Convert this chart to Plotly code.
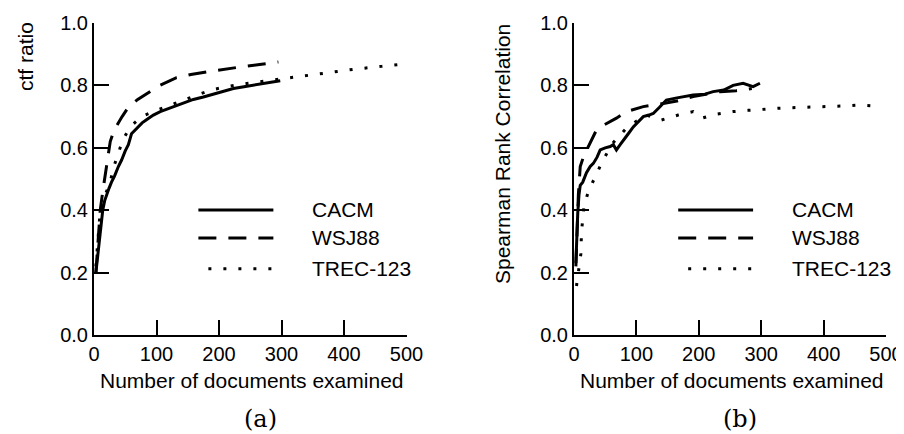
import plotly.graph_objects as go
from plotly.subplots import make_subplots

# ── (a) ctf ratio ────────────────────────────────────────────
cacm_a_x = [3, 6, 8, 11, 14, 17, 20, 24, 28, 33, 39, 44, 50, 55, 60, 65, 70, 77, 84, 95, 106, 118, 132, 145, 159, 175, 190, 206, 223, 240, 260, 280, 298]
cacm_a_y = [0.20, 0.26, 0.30, 0.36, 0.40, 0.43, 0.45, 0.47, 0.49, 0.51, 0.54, 0.56, 0.59, 0.61, 0.645, 0.655, 0.665, 0.68, 0.69, 0.705, 0.716, 0.725, 0.737, 0.745, 0.755, 0.763, 0.772, 0.781, 0.79, 0.796, 0.803, 0.809, 0.815]

wsj_a_x = [3, 6, 10, 14, 17, 22, 26, 31, 36, 45, 55, 70, 86, 105, 132, 155, 180, 205, 234, 265, 295]
wsj_a_y = [0.20, 0.30, 0.40, 0.46, 0.50, 0.57, 0.62, 0.65, 0.67, 0.70, 0.73, 0.755, 0.775, 0.80, 0.825, 0.835, 0.843, 0.851, 0.859, 0.867, 0.875]

trec_a_x = [3, 6, 10, 18, 26, 31, 38, 46, 58, 76, 100, 122, 148, 170, 191, 215, 244, 280, 319, 367, 417, 460, 493]
trec_a_y = [0.22, 0.30, 0.40, 0.45, 0.49, 0.535, 0.58, 0.625, 0.667, 0.70, 0.72, 0.737, 0.755, 0.773, 0.787, 0.797, 0.806, 0.816, 0.826, 0.840, 0.852, 0.861, 0.868]

# ── (b) Spearman rank correlation ────────────────────────────
cacm_b_x = [3, 4, 6, 8, 10, 14, 20, 26, 31, 37, 42, 50, 58, 63, 68, 74, 79, 87, 95, 103, 111, 120, 127, 137, 148, 165, 191, 210, 223, 240, 255, 271, 287, 298]
cacm_b_y = [0.23, 0.30, 0.39, 0.45, 0.48, 0.49, 0.52, 0.54, 0.55, 0.57, 0.593, 0.60, 0.604, 0.61, 0.593, 0.61, 0.625, 0.645, 0.667, 0.685, 0.70, 0.705, 0.71, 0.73, 0.753, 0.76, 0.769, 0.772, 0.78, 0.785, 0.80, 0.807, 0.796, 0.807]

wsj_b_x = [3, 5, 7, 10, 15, 22, 30, 36, 45, 55, 68, 84, 100, 111, 138, 165, 191, 234, 260, 285]
wsj_b_y = [0.22, 0.35, 0.45, 0.54, 0.57, 0.60, 0.63, 0.657, 0.67, 0.68, 0.695, 0.716, 0.725, 0.732, 0.74, 0.75, 0.764, 0.78, 0.783, 0.79]

trec_b_x = [4, 8, 11, 12, 16, 23, 34, 44, 60, 84, 100, 116, 140, 167, 191, 205, 229, 255, 279, 303, 330, 357, 381, 405, 431, 455, 482]
trec_b_y = [0.157, 0.21, 0.26, 0.33, 0.413, 0.46, 0.507, 0.55, 0.61, 0.663, 0.685, 0.705, 0.689, 0.705, 0.716, 0.695, 0.708, 0.716, 0.72, 0.724, 0.727, 0.729, 0.73, 0.732, 0.734, 0.737, 0.734]

series_names = ["CACM", "WSJ88", "TREC-123"]
dashes = ["solid", "18px,12px", "3px,12px"]
x_ticks = [0, 100, 200, 300, 400, 500]
y_ticks = [0, 0.2, 0.4, 0.6, 0.8, 1.0]

FONT = "Liberation Sans, Arial, sans-serif"

# page body has an 8px margin, so the figure is made 8px smaller and
# positions below are given in window pixels, then shifted
W, H, OFF = 896, 426, 8

def px(x):
    return (x - OFF) / W

def py(y):
    return 1 - (y - OFF) / H

fig = make_subplots(rows=1, cols=2)

panels = [
    [(cacm_a_x, cacm_a_y), (wsj_a_x, wsj_a_y), (trec_a_x, trec_a_y)],
    [(cacm_b_x, cacm_b_y), (wsj_b_x, wsj_b_y), (trec_b_x, trec_b_y)],
]

for col, series in enumerate(panels, start=1):
    for name, dash, (xs, ys) in zip(series_names, dashes, series):
        fig.add_trace(go.Scatter(
            x=xs, y=ys, mode="lines", name=name, showlegend=False,
            line=dict(color="black", width=3, dash=dash),
        ), row=1, col=col)

axis_style = dict(
    showgrid=False, zeroline=False, showline=True, linecolor="black", linewidth=2,
    ticks="inside", ticklen=15, tickwidth=2, tickcolor="black", automargin=False,
    tickfont=dict(size=20, color="black", family=FONT),
)

fig.update_xaxes(range=[0, 500], tickvals=x_ticks, **axis_style)
fig.update_yaxes(range=[0, 1.0], tickvals=y_ticks, tickformat=".1f", **axis_style)

fig.update_layout(
    xaxis=dict(domain=[px(94), px(406.5)]),
    xaxis2=dict(domain=[px(574), px(886)]),
    yaxis=dict(domain=[py(335), py(23)]),
    yaxis2=dict(domain=[py(335), py(23)]),
)

# ── hand-drawn legend, same in both panels ───────────────────
legend_rows = [0.401, 0.311, 0.212]
shapes = []
annotations = []
for xr, yr in [("x", "y"), ("x2", "y2")]:
    for name, dash, yy in zip(series_names, dashes, legend_rows):
        x_start = 183 if name == "TREC-123" else 167
        shapes.append(dict(type="line", xref=xr, yref=yr, x0=x_start, x1=287, y0=yy, y1=yy,
                           line=dict(color="black", width=3, dash=dash)))
        annotations.append(dict(xref=xr, yref=yr, x=346, y=yy, text=name, showarrow=False,
                                xanchor="left", yanchor="middle",
                                font=dict(size=21, color="black", family=FONT)))

# ── axis titles and panel labels ─────────────────────────────
def label(text, x, y, size=21, angle=0, family=FONT):
    annotations.append(dict(xref="paper", yref="paper", x=px(x), y=py(y),
                            text=text, showarrow=False, textangle=angle,
                            xanchor="center", yanchor="middle",
                            font=dict(size=size, color="black", family=family)))

label("Number of documents examined", 252, 380)
label("Number of documents examined", 732, 380)
label("ctf ratio", 25, 57, angle=-90)
label("Spearman Rank Correlation", 502, 154, angle=-90)
label("(a)", 260, 419, size=24, family="DejaVu Serif")
label("(b)", 740, 419, size=24, family="DejaVu Serif")

fig.update_layout(
    width=W, height=H,
    margin=dict(l=0, r=0, t=0, b=0),
    paper_bgcolor="white", plot_bgcolor="white",
    font=dict(family=FONT, color="black"),
    shapes=shapes, annotations=annotations,
    showlegend=False,
)

fig.write_html("out.html")
